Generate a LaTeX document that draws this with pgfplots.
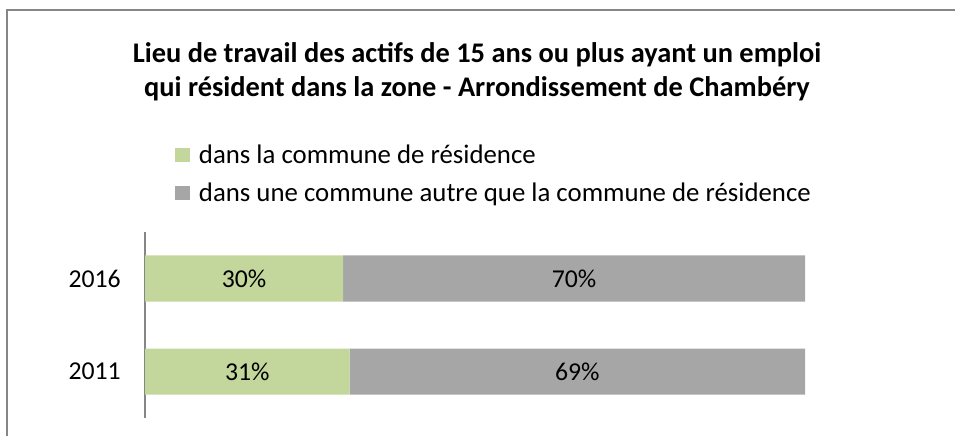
\documentclass[border=0pt]{standalone}
\usepackage{pgfplots}
\pgfplotsset{compat=1.18}
\usepackage{fontspec}
\setmainfont{Carlito}
\definecolor{vert}{HTML}{C3D69B}
\definecolor{gris}{HTML}{A6A6A6}
\definecolor{cadre}{HTML}{868686}
\begin{document}
\begin{tikzpicture}
\begin{scope}[x=0.75pt,y=0.75pt]
\useasboundingbox (0,0) rectangle (955,435);
\draw[cadre, line width=1.3pt] (7,-5) -- (7,425) -- (960,425);
\node[font=\bfseries\fontsize{21.3}{25.5}\selectfont, align=center] at (477,363) {Lieu de travail des actifs de 15 ans ou plus ayant un emploi\\qui résident dans la zone - Arrondissement de Chambéry};
\end{scope}
\begin{axis}[
 at={(108.75pt,12.75pt)}, anchor=south west, width=495pt, height=139.5pt, scale only axis,
 xmin=0, xmax=100, ymin=-0.5, ymax=1.5,
 xbar stacked, bar width=34.5pt,
 axis x line=none, axis y line=left,
 y axis line style={cadre, line width=1.5pt, -},
 ytick={0,1}, yticklabels={2011,2016}, major tick length=0pt,
 yticklabel style={font=\fontsize{19.3}{23}\selectfont, anchor=east, inner sep=0pt, xshift=-18pt},
 legend style={draw=none, at={(axis description cs:0.0455,1.485)}, anchor=north west,
   font=\fontsize{20.1}{24}\selectfont, inner sep=0pt, row sep=9pt, cells={anchor=west},
   /tikz/every odd column/.append style={column sep=4.5pt}},
 legend image code/.code={\fill[#1] (0pt,-5.6pt) rectangle (11.25pt,5.6pt);},
]
\addplot[fill=vert, draw=none] coordinates {(30,1) (31,0)};
\addplot[fill=gris, draw=none] coordinates {(70,1) (69,0)};
\legend{dans la commune de résidence, dans une commune autre que la commune de résidence}
\end{axis}
\begin{axis}[
 at={(108.75pt,12.75pt)}, anchor=south west, width=495pt, height=139.5pt, scale only axis,
 xmin=0, xmax=100, ymin=-0.5, ymax=1.5, hide axis,
]
\addplot[only marks, mark=*, mark size=0pt, nodes near coords, point meta=explicit symbolic,
  every node near coord/.style={anchor=center, font=\fontsize{19.3}{23}\selectfont}]
  coordinates {(15,1) [30\%] (65,1) [70\%] (15.5,0) [31\%] (65.5,0) [69\%]};
\end{axis}
\end{tikzpicture}
\end{document}
